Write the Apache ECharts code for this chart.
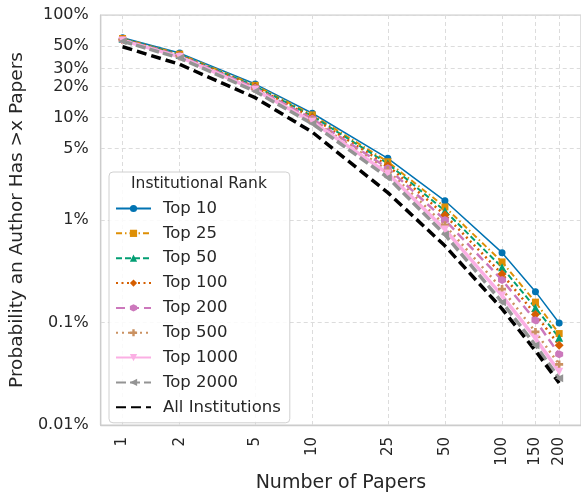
<!DOCTYPE html>
<html><head><meta charset="utf-8">
<script src="https://cdn.jsdelivr.net/npm/echarts@6/dist/echarts.min.js"></script>
<style>html,body{margin:0;padding:0;background:#fff}#c{width:581px;height:498px}</style>
</head><body><div id="c"></div>
<script>
const papers = [1, 2, 5, 10, 25, 50, 100, 150, 200];
const xTickValues = [1, 2, 5, 10, 25, 50, 100, 150, 200];
const yTickValues = [0.01, 0.1, 1, 5, 10, 20, 30, 50, 100];
const yTickLabels = ['0.01%', '0.1%', '1%', '5%', '10%', '20%', '30%', '50%', '100%'];
const seriesNames = ['Top 10', 'Top 25', 'Top 50', 'Top 100', 'Top 200', 'Top 500', 'Top 1000', 'Top 2000', 'All Institutions'];
const top10 = [60, 42.5, 21.2, 11.0, 4.0, 1.54, 0.48, 0.20, 0.099];
const top25 = [59, 41.5, 20.6, 10.6, 3.7, 1.34, 0.39, 0.158, 0.078];
const top50 = [58.5, 41, 20.2, 10.3, 3.55, 1.23, 0.345, 0.139, 0.071];
const top100 = [58, 40.5, 19.8, 10.0, 3.4, 1.12, 0.297, 0.12, 0.060];
const top200 = [57.5, 40, 19.4, 9.7, 3.2, 1.0, 0.26, 0.105, 0.049];
const top500 = [57, 39.5, 19.0, 9.4, 3.05, 0.89, 0.212, 0.081, 0.039];
const top1000 = [56.5, 39, 18.6, 9.1, 2.85, 0.81, 0.183, 0.07, 0.033];
const top2000 = [55.5, 38, 18.0, 8.7, 2.6, 0.72, 0.158, 0.06, 0.0286];
const allInst = [49, 33, 15.6, 7.2, 1.85, 0.56, 0.136, 0.053, 0.0257];

const FONT = 'DejaVu Sans';
const TXT = '#262626';
const styles = [
  {color: '#0173B2', width: 1.5, type: 'solid', symbol: 'circle', size: 7},
  {color: '#DE8F05', width: 2, type: [6, 3, 1.5, 3], symbol: 'rect', size: 7},
  {color: '#029E73', width: 2, type: [6, 3], symbol: 'triangle', size: 8},
  {color: '#D55E00', width: 2.5, type: [2, 3.5], symbol: 'diamond', size: 9},
  {color: '#CC78BC', width: 2.5, type: [9, 5], symbol: 'path://M5,0L9.33,2.5L9.33,7.5L5,10L0.67,7.5L0.67,2.5Z', size: 8},
  {color: '#CA9161', width: 2.5, type: [2, 4], symbol: 'path://M3,0H6V3H9V6H6V9H3V6H0V3H3Z', size: 8},
  {color: '#FBAFE4', width: 3.5, type: 'solid', symbol: 'path://M0,0L10,0L5,9Z', size: 8},
  {color: '#949494', width: 3.5, type: [10, 4], symbol: 'path://M0,5L9,0L9,10Z', size: 8},
  {color: '#000000', width: 3.5, type: [10, 5], symbol: 'none', size: 0}
];
const allData = [top10, top25, top50, top100, top200, top500, top1000, top2000, allInst];

const series = allData.map((d, i) => ({
  name: seriesNames[i],
  type: 'line',
  data: d.map((v, j) => [papers[j], v]),
  symbol: styles[i].symbol,
  symbolSize: styles[i].size,
  showSymbol: styles[i].symbol !== 'none',
  color: styles[i].color,
  itemStyle: {color: styles[i].color},
  lineStyle: {color: styles[i].color, width: styles[i].width, type: styles[i].type},
  emphasis: {disabled: true},
  animation: false
}));

const legendData = seriesNames.map((n, i) => styles[i].symbol === 'none' ? {name: n, itemStyle: {opacity: 0}} : {name: n});

const chart = echarts.init(document.getElementById('c'), null, {renderer: 'canvas'});
chart.setOption({
  animation: false,
  textStyle: {fontFamily: FONT, color: TXT},
  grid: {left: 100, top: 15, right: -4, bottom: 69, show: true, borderColor: '#cccccc', borderWidth: 1.25, containLabel: false},
  xAxis: {
    type: 'log', logBase: 10, min: 0.7672, max: 260.7,
    name: 'Number of Papers', nameLocation: 'middle', nameGap: 49,
    nameTextStyle: {fontFamily: FONT, fontSize: 19, color: TXT},
    axisLine: {show: true, lineStyle: {color: '#cccccc', width: 1.25}},
    axisTick: {show: false, customValues: xTickValues},
    minorTick: {show: false},
    axisLabel: {customValues: xTickValues, rotate: 90, margin: 12, fontFamily: FONT, fontSize: 15, color: TXT, formatter: v => String(Math.round(v))},
    splitLine: {show: true, lineStyle: {color: '#dcdcdc', type: [4, 3], width: 1}}
  },
  yAxis: {
    type: 'log', logBase: 10, min: 0.01, max: 100,
    name: 'Probability an Author Has >x Papers', nameLocation: 'middle', nameGap: 67,
    nameTextStyle: {fontFamily: FONT, fontSize: 18.5, color: TXT},
    axisLine: {show: true, lineStyle: {color: '#cccccc', width: 1.25}},
    axisTick: {show: false, customValues: yTickValues},
    axisLabel: {customValues: yTickValues, margin: 12, fontFamily: FONT, fontSize: 16, color: TXT,
      formatter: v => {
        let best = 0, bd = Infinity;
        yTickValues.forEach((t, k) => { const d = Math.abs(Math.log10(t) - Math.log10(v)); if (d < bd) { bd = d; best = k; } });
        return yTickLabels[best];
      }},
    splitLine: {show: true, lineStyle: {color: '#dcdcdc', type: [4, 3], width: 1}}
  },
  legend: {
    orient: 'vertical', left: 109, top: 172,
    padding: [28, 9, 7, 6],
    itemWidth: 35, itemHeight: 9, itemGap: 7.85,
    backgroundColor: 'rgba(255,255,255,0.85)', borderColor: '#d0d0d0', borderWidth: 1, borderRadius: 4,
    textStyle: {fontFamily: FONT, fontSize: 16.5, color: TXT, padding: [0, 0, 0, 7]},
    data: legendData
  },
  graphic: [{
    type: 'text', left: 131, top: 176, z: 100,
    style: {text: 'Institutional Rank', fontFamily: FONT, fontSize: 15.5, fill: TXT}
  }],
  series: series
});
</script></body></html>
